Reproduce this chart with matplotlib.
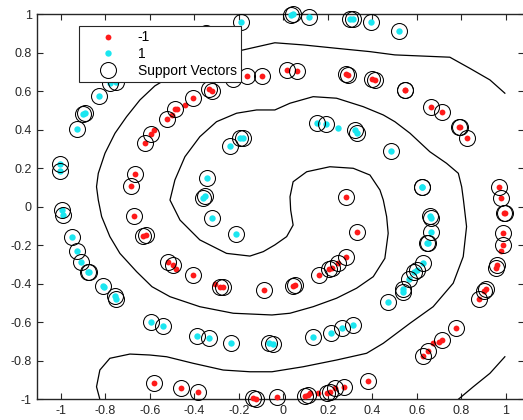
import numpy as np
import matplotlib
matplotlib.use('Agg')
import matplotlib.pyplot as plt

plt.rcParams['font.family'] = ['Liberation Sans', 'DejaVu Sans']

# class -1 points: x, y, support-vector flag
red_x = [-0.225, -0.162, -0.097, -0.333, -0.322, -0.407, -0.443, -0.487, -0.479, -0.500,
         -0.524, -0.581, -0.596, -0.622, -0.665, -0.686, 0.018, 0.060, 0.281, 0.291,
         0.397, 0.411, 0.546, 0.548, 0.663, 0.714, 0.790, 0.792, 0.826, 0.281,
         0.967, 0.977, 0.991, 0.995, 0.988, 0.988, 0.977, 0.958, 0.955, 0.910,
         0.901, 0.880, 0.775, 0.711, 0.700, 0.673, 0.651, 0.626, -0.671, -0.629,
         -0.617, -0.517, -0.497, -0.482, -0.407, -0.307, -0.285, -0.273, -0.087, 0.042,
         0.052, 0.161, 0.206, 0.217, 0.247, 0.281, 0.329, -0.581, -0.460, -0.385,
         -0.135, -0.123, -0.027, 0.097, 0.112, 0.119, 0.157, 0.197, 0.209, 0.232,
         0.272, 0.379]
red_y = [0.664, 0.679, 0.679, 0.610, 0.603, 0.565, 0.527, 0.506, 0.506, 0.477,
         0.456, 0.399, 0.378, 0.330, 0.169, 0.110, 0.711, 0.705, 0.690, 0.685,
         0.662, 0.659, 0.607, 0.605, 0.517, 0.494, 0.416, 0.414, 0.356, 0.049,
         0.104, 0.044, -0.031, -0.034, -0.138, -0.198, -0.228, -0.302, -0.319, -0.429,
         -0.436, -0.481, -0.631, -0.692, -0.701, -0.709, -0.749, -0.775, -0.048, -0.152,
         -0.146, -0.285, -0.302, -0.323, -0.354, -0.403, -0.415, -0.418, -0.432, -0.411,
         -0.406, -0.354, -0.323, -0.319, -0.294, -0.259, -0.129, -0.917, -0.943, -0.964,
         -0.995, -0.998, -0.986, -0.983, -0.978, -0.969, -0.966, -0.969, -0.961, -0.943,
         -0.935, -0.905]
red_sv = [1, 1, 1, 1, 1, 1, 0, 1, 0, 0,
          1, 0, 1, 1, 1, 1, 1, 1, 1, 1,
          1, 1, 1, 1, 1, 1, 1, 1, 1, 1,
          1, 1, 1, 1, 1, 1, 0, 1, 1, 1,
          1, 1, 1, 1, 0, 0, 1, 1, 1, 1,
          1, 1, 1, 0, 1, 0, 1, 1, 1, 1,
          1, 1, 1, 1, 1, 1, 1, 1, 1, 1,
          1, 1, 1, 1, 1, 0, 0, 1, 1, 1,
          1, 1]

# class 1 points
cyan_x = [-0.779, -0.752, -0.828, -0.899, -0.890, -0.928, -1.005, -1.005, -0.348, -0.192,
          0.033, 0.042, 0.116, 0.299, 0.311, 0.393, 0.521, 0.150, 0.191, 0.244,
          0.322, 0.329, 0.482, 0.621, 0.623, -0.240, -0.195, -0.183, -0.342, -0.360,
          -0.352, -0.996, -0.989, -0.951, -0.928, -0.910, -0.876, -0.874, -0.809, -0.806,
          -0.756, -0.752, -0.596, -0.539, -0.387, -0.333, -0.235, -0.065, -0.047, -0.322,
          -0.213, 0.132, 0.214, 0.262, 0.314, 0.471, 0.539, 0.536, 0.565, 0.599,
          0.587, 0.628, 0.644, 0.651, 0.663, 0.658, 0.662]
cyan_y = [0.641, 0.648, 0.574, 0.481, 0.486, 0.403, 0.221, 0.186, 0.905, 0.960,
          0.996, 0.999, 0.984, 0.976, 0.974, 0.960, 0.913, 0.434, 0.429, 0.408,
          0.399, 0.385, 0.290, 0.104, 0.103, 0.317, 0.356, 0.359, 0.151, 0.044,
          0.056, -0.017, -0.043, -0.158, -0.230, -0.285, -0.337, -0.339, -0.410, -0.418,
          -0.463, -0.479, -0.597, -0.619, -0.671, -0.683, -0.709, -0.710, -0.715, -0.060,
          -0.141, -0.678, -0.654, -0.631, -0.614, -0.493, -0.429, -0.441, -0.377, -0.328,
          -0.337, -0.290, -0.190, -0.186, -0.132, -0.048, -0.060]
cyan_sv = [1, 1, 1, 1, 1, 1, 1, 1, 1, 1,
           1, 1, 1, 1, 1, 1, 1, 1, 1, 0,
           1, 1, 1, 1, 1, 1, 1, 1, 1, 1,
           1, 1, 1, 1, 1, 1, 1, 1, 1, 0,
           1, 1, 1, 1, 1, 1, 1, 1, 1, 1,
           1, 1, 1, 1, 1, 1, 1, 1, 1, 1,
           1, 1, 1, 1, 1, 1, 1]

# decision boundary (traced)
bound_x = [0.995, 0.928, 0.838, 0.748, 0.501, 0.389, 0.241, 0.088, -0.038, -0.195,
           -0.374, -0.532, -0.577, -0.644, -0.704, -0.756, -0.801, -0.831, -0.839, -0.831,
           -0.816, -0.779, -0.734, -0.659, -0.590, -0.509, -0.375, -0.225, -0.051, 0.030,
           0.134, 0.239, 0.329, 0.404, 0.456, 0.471, 0.464, 0.449, 0.434, 0.389,
           0.314, 0.209, 0.105, 0.044, 0.030, 0.033, 0.044, 0.015, -0.038, -0.090,
           -0.150, -0.255, -0.375, -0.464, -0.509, -0.487, -0.442, -0.375, -0.300, -0.210,
           -0.120, -0.038, 0.030, 0.134, 0.239, 0.359, 0.449, 0.501, 0.569, 0.658,
           0.733, 0.786, 0.801, 0.809, 0.823, 0.808, 0.763, 0.673, 0.569, 0.479,
           0.449, 0.374, 0.239, 0.089, -0.051, -0.150, -0.270, -0.405, -0.524, -0.599,
           -0.689, -0.779, -0.824, -0.839, -0.824]
bound_y = [0.590, 0.659, 0.719, 0.777, 0.789, 0.806, 0.823, 0.841, 0.852, 0.811,
           0.752, 0.659, 0.628, 0.555, 0.468, 0.382, 0.278, 0.174, 0.104, 0.035,
           -0.051, -0.155, -0.242, -0.337, -0.415, -0.467, -0.519, -0.553, -0.562, -0.553,
           -0.519, -0.475, -0.423, -0.363, -0.268, -0.138, -0.051, 0.035, 0.087, 0.165,
           0.200, 0.208, 0.182, 0.130, 0.052, -0.017, -0.095, -0.155, -0.198, -0.233,
           -0.256, -0.242, -0.172, -0.069, 0.035, 0.139, 0.260, 0.364, 0.442, 0.486,
           0.503, 0.503, 0.538, 0.572, 0.564, 0.520, 0.477, 0.442, 0.382, 0.286,
           0.226, 0.174, 0.104, 0.035, -0.103, -0.259, -0.397, -0.519, -0.605, -0.683,
           -0.709, -0.761, -0.796, -0.831, -0.857, -0.857, -0.848, -0.813, -0.779, -0.770,
           -0.765, -0.787, -0.848, -0.935, -1.0]
corner_x = [0.995, 0.928, 0.853, 0.786]
corner_y = [-0.779, -0.865, -0.935, -1.0]

red_x, red_y, red_sv = np.array(red_x), np.array(red_y), np.array(red_sv, bool)
cyan_x, cyan_y, cyan_sv = np.array(cyan_x), np.array(cyan_y), np.array(cyan_sv, bool)
sv_x = np.concatenate([red_x[red_sv], cyan_x[cyan_sv]])
sv_y = np.concatenate([red_y[red_sv], cyan_y[cyan_sv]])

fig = plt.figure(figsize=(5.23, 4.2), dpi=100)
ax = fig.add_axes([0.0713, 0.0493, 0.9302, 0.9167])

ax.plot(red_x, red_y, 'o', color='#ff1a1a', ms=4.2, mew=0, clip_on=False, label='-1', zorder=3)
ax.plot(cyan_x, cyan_y, 'o', color='#1ae6f0', ms=4.6, mew=0, clip_on=False, label='1', zorder=3)
ax.plot(bound_x, bound_y, '-', color='black', lw=0.9, zorder=2)
ax.plot(corner_x, corner_y, '-', color='black', lw=0.9, zorder=2)
ax.plot(sv_x, sv_y, 'o', mfc='none', mec='black', ms=11.5, mew=0.75, clip_on=False,
        label='Support Vectors', zorder=4)

ax.set_xlim(-1.105, 1.08)
ax.set_ylim(-1, 1)
ax.set_xticks(np.arange(-1, 1.01, 0.2))
ax.set_yticks(np.arange(-1, 1.01, 0.2))
ax.set_xticklabels(['-1', '-0.8', '-0.6', '-0.4', '-0.2', '0', '0.2', '0.4', '0.6', '0.8', '1'])
ax.set_yticklabels(['-1', '-0.8', '-0.6', '-0.4', '-0.2', '0', '0.2', '0.4', '0.6', '0.8', '1'])
ax.tick_params(direction='in', length=4, width=0.8, labelsize=9, top=True, right=True,
               colors='#262626', pad=4)
for s in ax.spines.values():
    s.set_linewidth(1.0)
    s.set_color('#262626')

leg = ax.legend(loc='upper left', bbox_to_anchor=(0.0857, 0.9696), borderaxespad=0,
                fontsize=10, frameon=True, fancybox=False, handlelength=3.6,
                handletextpad=0.3, labelspacing=0.2, borderpad=0.32, numpoints=1,
                framealpha=1)
leg.get_frame().set_edgecolor('#262626')
leg.get_frame().set_linewidth(0.8)
leg.set_zorder(20)

fig.savefig('out.png', dpi=100)
